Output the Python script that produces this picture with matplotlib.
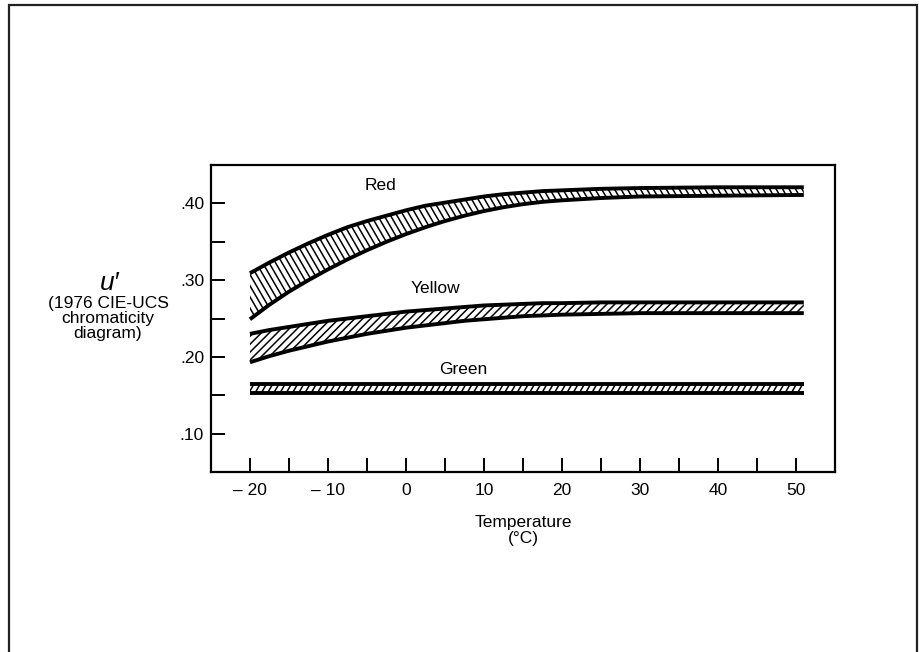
import numpy as np
import matplotlib
matplotlib.use('Agg')
import matplotlib.pyplot as plt
from matplotlib.collections import LineCollection
from matplotlib.patches import Rectangle

plt.rcParams['font.family'] = ['Liberation Sans', 'DejaVu Sans']

temps = [-20, -17.5, -15, -12.5, -10, -7.5, -5, -2.5, 0, 2.5, 5, 7.5, 10,
         12.5, 15, 17.5, 20, 25, 30, 40, 51]

red_hi = [0.309, 0.323, 0.336, 0.348, 0.359, 0.369, 0.377, 0.384, 0.391,
          0.397, 0.401, 0.405, 0.409, 0.412, 0.414, 0.416, 0.417, 0.419,
          0.420, 0.421, 0.421]
red_lo = [0.249, 0.268, 0.285, 0.300, 0.314, 0.327, 0.339, 0.350, 0.360,
          0.369, 0.377, 0.384, 0.390, 0.395, 0.399, 0.402, 0.404, 0.407,
          0.409, 0.410, 0.411]

yellow_hi = [0.230, 0.235, 0.239, 0.243, 0.247, 0.250, 0.253, 0.256, 0.259,
             0.261, 0.263, 0.265, 0.267, 0.268, 0.269, 0.270, 0.270, 0.271,
             0.271, 0.271, 0.271]
yellow_lo = [0.193, 0.201, 0.208, 0.214, 0.220, 0.225, 0.230, 0.234, 0.238,
             0.241, 0.244, 0.247, 0.249, 0.251, 0.253, 0.254, 0.255, 0.256,
             0.257, 0.257, 0.257]

green_hi = [0.164] * len(temps)
green_lo = [0.153] * len(temps)

band_names = ['Red', 'Yellow', 'Green']

xticks = [-20, -15, -10, -5, 0, 5, 10, 15, 20, 25, 30, 35, 40, 45, 50]
xticklabels = ['\u2013 20', '', '\u2013 10', '', '0', '', '10', '', '20', '',
               '30', '', '40', '', '50']
yticks = [0.10, 0.15, 0.20, 0.25, 0.30, 0.35, 0.40]
yticklabels = ['.10', '', '.20', '', '.30', '', '.40']

fig = plt.figure(figsize=(9.2, 6.52), dpi=100)
ax = fig.add_axes([0.2293, 0.2761, 0.6783, 0.4708])
ax.set_xlim(-25, 55)
ax.set_ylim(0.05, 0.45)


def hatch_band(x, lo, hi, angle, spacing, lw=1.1):
    # fill_between gives the clip outline, lines are drawn in pixel space
    poly = ax.fill_between(x, lo, hi, facecolor='none', edgecolor='none')
    path = poly.get_paths()[0]
    pts = ax.transData.transform(path.vertices)
    th = np.deg2rad(angle)
    d = np.array([np.cos(th), np.sin(th)])
    n = np.array([-np.sin(th), np.cos(th)])
    proj = pts @ n
    big = 2000
    segs = []
    for c in np.arange(proj.min() - spacing, proj.max() + spacing, spacing):
        p0 = c * n - big * d
        p1 = c * n + big * d
        seg = ax.transData.inverted().transform(np.array([p0, p1]))
        segs.append(seg)
    lc = LineCollection(segs, colors='black', linewidths=lw)
    ax.add_collection(lc, autolim=False)
    lc.set_clip_path(path, ax.transData)


hatch_band(temps, red_lo, red_hi, -60, 5.6)
hatch_band(temps, yellow_lo, yellow_hi, 45, 5.6)
hatch_band(temps, green_lo, green_hi, 60, 5.4)

for hi, lo in [(red_hi, red_lo), (yellow_hi, yellow_lo), (green_hi, green_lo)]:
    ax.plot(temps, hi, color='black', lw=2.8, solid_capstyle='butt',
            solid_joinstyle='round')
    ax.plot(temps, lo, color='black', lw=2.8, solid_capstyle='butt',
            solid_joinstyle='round')

# band names
ax.text(-3.3, 0.423, band_names[0], ha='center', va='center', fontsize=12.5)
ax.text(3.8, 0.289, band_names[1], ha='center', va='center', fontsize=12.5)
ax.text(7.4, 0.183, band_names[2], ha='center', va='center', fontsize=12.5)

ax.set_xticks(xticks)
ax.set_xticklabels(xticklabels)
ax.set_yticks(yticks)
ax.set_yticklabels(yticklabels)
ax.tick_params(axis='both', direction='in', length=10, width=1.4,
               labelsize=12.5, colors='black')
ax.tick_params(axis='x', pad=8)
ax.tick_params(axis='y', pad=5)
for sp in ax.spines.values():
    sp.set_linewidth(1.6)

ax.set_xlabel('Temperature\n(\u00b0C)', fontsize=12.5, labelpad=12,
              linespacing=1.1)

# y axis caption, placed by hand left of the axis
fig.text(110 / 920, 1 - 283 / 652, "u\u2032", fontsize=19, style='italic',
         ha='center', va='center')
fig.text(108 / 920, 1 - 318 / 652, '(1976 CIE-UCS\nchromaticity\ndiagram)',
         fontsize=12.5, ha='center', va='center', linespacing=1.0)

# outer frame of the page
frame = Rectangle((9 / 920, -0.05), (917 - 9) / 920, 1 - 5 / 652 + 0.05,
                  transform=fig.transFigure, fill=False, lw=1.6,
                  edgecolor='#222222')
fig.patches.append(frame)

fig.savefig('out.png', dpi=100)
